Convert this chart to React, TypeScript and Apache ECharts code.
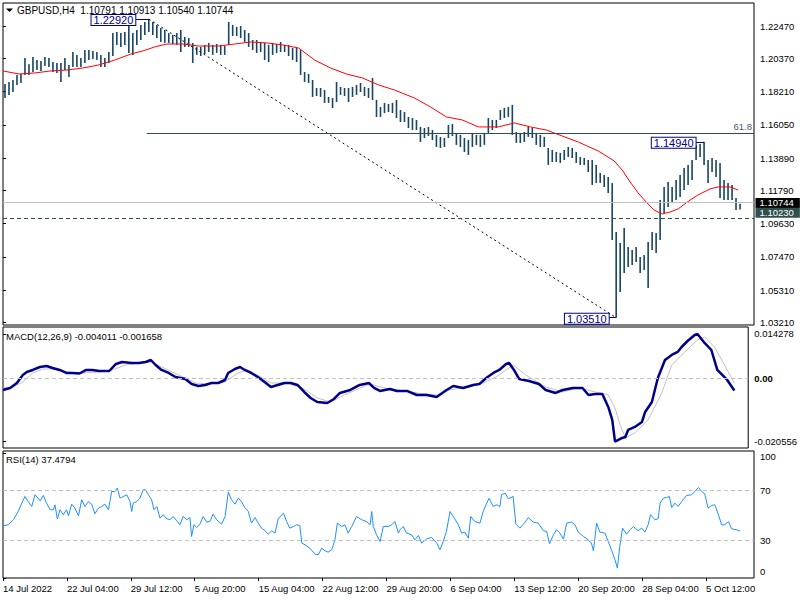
import React, { useEffect, useRef } from "react";
import * as echarts from "echarts";

// ---------- data ----------
const symbolName = "GBPUSD,H4";
const lastOhlc = [1.10791, 1.10913, 1.1054, 1.10744];
const macdLast = [-0.004011, -0.001658];
const rsiLast = 37.4794;

const timeLabels = [
  "14 Jul 2022", "22 Jul 04:00", "29 Jul 12:00", "5 Aug 20:00", "15 Aug 04:00", "22 Aug 12:00",
  "29 Aug 20:00", "6 Sep 04:00", "13 Sep 12:00", "20 Sep 20:00", "28 Sep 04:00", "5 Oct 12:00",
];
const barsPerLabel = 16;
const barSlots = 188;

const barHigh = [
  1.1870, 1.1883, 1.1896, 1.1929, 1.1935, 1.2039, 1.1998, 1.2046, 1.2026, 1.2020,
  1.2046, 1.2039, 1.2013, 1.2007, 1.2007, 1.2039, 1.1994, 1.2078, 1.2059, 1.2039,
  1.2091, 1.2091, 1.2085, 1.2078, 1.2059, 1.2039, 1.2078, 1.2201, 1.2208, 1.2201,
  1.2208, 1.2254, 1.2201, 1.2221, 1.2254, 1.2273, 1.2292, 1.2273, 1.2254, 1.2234,
  1.2221, 1.2201, 1.2189, 1.2201, 1.2221, 1.2176, 1.2169, 1.2137, 1.2111, 1.2111,
  1.2124, 1.2137, 1.2124, 1.2130, 1.2124, 1.2117, 1.2273, 1.2254, 1.2241, 1.2247,
  1.2221, 1.2201, 1.2156, 1.2156, 1.2143, 1.2137, 1.2124, 1.2137, 1.2130, 1.2143,
  1.2124, 1.2124, 1.2104, 1.2104, 1.2091, 1.1948, 1.1935, 1.1896, 1.1844, 1.1844,
  1.1831, 1.1786, 1.1779, 1.1883, 1.1851, 1.1844, 1.1844, 1.1851, 1.1864, 1.1877,
  1.1851, 1.1844, 1.1909, 1.1766, 1.1721, 1.1747, 1.1740, 1.1747, 1.1766, 1.1701,
  1.1688, 1.1656, 1.1649, 1.1636, 1.1591, 1.1584, 1.1591, 1.1571, 1.1539, 1.1526,
  1.1519, 1.1604, 1.1610, 1.1552, 1.1539, 1.1519, 1.1506, 1.1552, 1.1539, 1.1539,
  1.1552, 1.1649, 1.1636, 1.1636, 1.1701, 1.1714, 1.1721, 1.1734, 1.1558, 1.1552,
  1.1558, 1.1591, 1.1584, 1.1552, 1.1539, 1.1526, 1.1454, 1.1441, 1.1428, 1.1422,
  1.1441, 1.1461, 1.1454, 1.1428, 1.1396, 1.1389, 1.1376, 1.1376, 1.1344, 1.1292,
  1.1279, 1.1266, 1.1227, 1.0908, 1.0837, 1.0934, 1.0811, 1.0791, 1.0811, 1.0746,
  1.0759, 1.0843, 1.0908, 1.0901, 1.1116, 1.1201, 1.1233, 1.1201, 1.1246, 1.1279,
  1.1324, 1.1344, 1.1376, 1.1474, 1.1480, 1.1494, 1.1376, 1.1389, 1.1376, 1.1357,
  1.1246, 1.1227, 1.1214, 1.1129, 1.1091,
];
const barLow = [
  1.1779, 1.1798, 1.1818, 1.1864, 1.1877, 1.1929, 1.1929, 1.1948, 1.1961, 1.1955,
  1.1987, 1.1981, 1.1948, 1.1942, 1.1883, 1.1961, 1.1916, 1.1981, 1.1981, 1.1981,
  1.2007, 1.2026, 1.2033, 1.2026, 1.1981, 1.1981, 1.2007, 1.2052, 1.2124, 1.2111,
  1.2124, 1.2072, 1.2059, 1.2124, 1.2156, 1.2189, 1.2208, 1.2189, 1.2169, 1.2143,
  1.2137, 1.2137, 1.2130, 1.2124, 1.2078, 1.2111, 1.2111, 1.2007, 1.2059, 1.2052,
  1.2065, 1.2078, 1.2059, 1.2072, 1.2059, 1.2059, 1.2124, 1.2182, 1.2182, 1.2169,
  1.2143, 1.2111, 1.2091, 1.2072, 1.2078, 1.2026, 1.2013, 1.2059, 1.2072, 1.2078,
  1.2078, 1.2052, 1.2026, 1.2013, 1.1929, 1.1883, 1.1877, 1.1786, 1.1792, 1.1786,
  1.1747, 1.1747, 1.1714, 1.1753, 1.1799, 1.1792, 1.1753, 1.1786, 1.1799, 1.1818,
  1.1792, 1.1779, 1.1766, 1.1656, 1.1656, 1.1681, 1.1688, 1.1681, 1.1649, 1.1623,
  1.1623, 1.1584, 1.1571, 1.1571, 1.1493, 1.1519, 1.1532, 1.1506, 1.1461, 1.1454,
  1.1461, 1.1519, 1.1532, 1.1474, 1.1461, 1.1428, 1.1409, 1.1461, 1.1474, 1.1461,
  1.1474, 1.1552, 1.1571, 1.1584, 1.1636, 1.1649, 1.1656, 1.1539, 1.1487, 1.1487,
  1.1493, 1.1526, 1.1519, 1.1474, 1.1461, 1.1461, 1.1344, 1.1363, 1.1363, 1.1357,
  1.1376, 1.1396, 1.1389, 1.1357, 1.1344, 1.1344, 1.1298, 1.1214, 1.1227, 1.1227,
  1.1201, 1.1162, 1.0856, 1.0351, 1.0518, 1.0642, 1.0681, 1.0694, 1.0713, 1.0642,
  1.0661, 1.0544, 1.0791, 1.0772, 1.0856, 1.1032, 1.1071, 1.1097, 1.1116, 1.1136,
  1.1181, 1.1214, 1.1246, 1.1376, 1.1396, 1.1344, 1.1227, 1.1298, 1.1266, 1.1129,
  1.1116, 1.1116, 1.1116, 1.1051, 1.1054,
];

const maIdx = [
  0, 4, 8, 12, 16, 20, 24, 28, 32, 35, 38, 41, 45, 49, 54, 58, 62, 66, 70, 74,
  78, 82, 86, 90, 94, 98, 103, 107, 111, 115, 119, 124, 128, 132, 136, 140, 144, 149, 153, 155,
  157, 159, 161, 163, 165, 167, 169, 172, 174, 177, 179, 182, 184,
];
const maVal = [
  1.1955, 1.1935, 1.1942, 1.1955, 1.1961, 1.1974, 1.1994, 1.2026, 1.2065, 1.2085,
  1.2111, 1.2130, 1.2130, 1.2117, 1.2117, 1.2130, 1.2143, 1.2137, 1.2124, 1.2104,
  1.2026, 1.1974, 1.1935, 1.1909, 1.1864, 1.1831, 1.1779, 1.1721, 1.1656, 1.1636,
  1.1591, 1.1591, 1.1617, 1.1591, 1.1571, 1.1532, 1.1493, 1.1435, 1.1370, 1.1311,
  1.1233, 1.1162, 1.1103, 1.1051, 1.1025, 1.1038, 1.1058, 1.1116, 1.1149, 1.1188,
  1.1201, 1.1201, 1.1181,
];

const macdIdx = [
  0, 1.8, 3.5, 5, 6, 7.5, 9.3, 11, 12.5, 14.3, 16, 17.5, 19.3, 21, 22.5, 24.3, 26.8, 28.5, 30, 32.5,
  34.3, 36, 37.3, 38.5, 40, 41.8, 43.5, 46, 47.6, 49.3, 51, 52.6, 54.3, 56, 56.8, 58.5, 59.8, 61, 62.6, 64.3,
  66, 67.6, 69.3, 71, 72.6, 74.3, 76, 77.6, 79.3, 81.8, 83.5, 85, 87.6, 90, 92.3, 93.6, 95.1, 97.6, 99.4, 101.9,
  104.4, 106.9, 109.4, 111.9, 113.6, 116.1, 118.6, 120.2, 121.9, 123.7, 125.2, 126.9, 127.7, 128.9, 130.2, 132.7, 135.2, 136.9, 139.4, 141.2,
  143.7, 146.2, 147.7, 149.4, 151.2, 152.7, 153.7, 154.4, 156.2, 157, 157.7, 159.4, 161.2, 162, 163.7, 165.2, 167, 168.7, 170.2, 171.2,
  172.7, 174.5, 175.2, 177, 178.7, 180.2, 182.7, 184.5,
];
const macdVal = [
  -0.00383, -0.00318, -0.00157, 0.00102, 0.00199, 0.00264, 0.00361, 0.00393, 0.00328, 0.00264,
  0.00167, 0.00167, 0.0015, 0.00264, 0.00264, 0.00231, 0.00231, 0.00458, 0.00522, 0.0049,
  0.0049, 0.00522, 0.00587, 0.00425, 0.00264, 0.00167, 0.00037, -0.00027, -0.00189, -0.00254,
  -0.00221, -0.00157, -0.00157, -0.0006, 0.00167, 0.00296, 0.00361, 0.00264, 0.00167, 0.00037,
  -0.00124, -0.00286, -0.00221, -0.00157, -0.00157, -0.00221, -0.00448, -0.00642, -0.00771, -0.00804,
  -0.00674, -0.0048, -0.00383, -0.00221, -0.00157, -0.00318, -0.00415, -0.00351, -0.00415, -0.00415,
  -0.00545, -0.00545, -0.0061, -0.00383, -0.00254, -0.00318, -0.00221, -0.00189, 0.00005, 0.00167,
  0.00264, 0.00458, 0.0049, 0.00264, -0.00027, -0.00092, -0.00189, -0.00383, -0.0048, -0.00383,
  -0.00318, -0.00318, -0.00545, -0.00512, -0.00512, -0.00933, -0.01353, -0.020556, -0.01936, -0.01903,
  -0.01677, -0.0158, -0.01418, -0.01095, -0.00771, 0.00005, 0.00587, 0.00749, 0.00846, 0.01007,
  0.01201, 0.01395, 0.014278, 0.01137, 0.0091, 0.00264, -0.0006, -0.004011,
];

const signalIdx = [
  0, 2.5, 5, 7.5, 10, 12.5, 16, 20, 24.3, 27.5, 31, 34.3, 37.5, 40, 44.3, 48.6, 51.8, 56, 59.3, 61.8,
  65, 67.6, 71.8, 76, 79.3, 82.6, 86.1, 90.1, 92.6, 96.1, 99.4, 104.4, 109.4, 112.7, 117.6, 121.1, 124.4, 128.7, 131.9, 136.9,
  141.2, 145.2, 149.4, 152.7, 154.4, 155.7, 157, 159.4, 162.7, 166.2, 168.7, 172, 175.2, 177, 179.5, 182.7, 184.5,
];
const signalVal = [
  -0.00318, -0.00286, -0.00124, 0.00167, 0.00296, 0.00296, 0.00199, 0.00167, 0.00199, 0.00264,
  0.00425, 0.0049, 0.00522, 0.00361, 0.00102, -0.00157, -0.00189, -0.00124, 0.00167, 0.00264,
  0.00037, -0.00157, -0.00157, -0.00351, -0.00642, -0.00771, -0.00545, -0.00318, -0.00189, -0.00318,
  -0.00383, -0.0048, -0.00545, -0.00383, -0.00286, -0.00157, 0.00037, 0.00425, 0.00102, -0.00286,
  -0.00448, -0.00318, -0.00448, -0.00545, -0.00965, -0.01515, -0.01936, -0.01774, -0.01353, -0.0048,
  0.00425, 0.00846, 0.01234, 0.01331, 0.01007, 0.00264, -0.001658,
];

const rsiIdx = [
  0, 1.3, 2.6, 3.8, 4.7, 5.5, 6.3, 7.2, 8.0, 8.8, 9.3, 10.1, 10.9, 11.8, 12.6, 13.0, 13.6, 14.3, 15.1, 15.9,
  16.4, 17.2, 18.0, 18.9, 19.7, 20.5, 21.4, 22.2, 23.0, 23.9, 24.7, 25.5, 26.4, 27.2, 28.0, 28.6, 29.3, 30.1, 31.0, 31.8,
  32.2, 32.6, 33.5, 34.3, 35.1, 35.6, 36.4, 37.2, 37.8, 38.5, 39.3, 40.1, 41.0, 41.8, 42.6, 43.5, 44.3, 45.1, 46.0, 46.8,
  47.2, 47.8, 48.5, 49.3, 50.1, 51.0, 51.8, 52.6, 53.5, 54.7, 55.6, 56.4, 57.2, 58.1, 58.9, 59.7, 60.6, 61.4, 62.2, 63.1,
  63.9, 64.7, 65.6, 66.4, 67.3, 68.1, 68.9, 70.2, 71.0, 71.8, 72.7, 73.5, 74.3, 74.8, 75.6, 76.8, 78.1, 78.9, 79.8, 80.6,
  81.4, 82.3, 83.1, 83.7, 84.8, 85.6, 86.4, 87.3, 88.5, 89.8, 91.0, 91.9, 92.3, 92.7, 93.5, 94.4, 95.2, 96.5, 97.3, 98.1,
  99.0, 99.4, 100.2, 101.0, 102.3, 103.1, 104.0, 104.8, 106.1, 107.3, 108.6, 109.4, 110.2, 111.0, 111.9, 112.7, 114.0, 114.8, 115.6, 116.5,
  117.1, 118.1, 119.4, 120.2, 121.1, 121.7, 122.7, 123.6, 124.4, 124.8, 125.7, 126.5, 127.7, 128.4, 129.4, 130.7, 131.5, 132.7, 134.0, 135.3,
  136.1, 136.8, 137.8, 138.6, 139.4, 140.3, 141.1, 142.3, 143.2, 144.0, 145.3, 146.5, 147.3, 147.8, 148.6, 149.4, 150.7, 151.5, 152.4, 153.2,
  153.8, 154.4, 155.1, 156.1, 157.0, 157.8, 159.0, 159.9, 160.7, 161.5, 162.1, 163.2, 164.0, 164.5, 165.3, 166.1, 166.8, 167.4, 168.2, 169.0,
  169.9, 171.1, 172.4, 174.1, 174.9, 175.7, 176.5, 177.4, 178.2, 179.1, 179.9, 180.7, 181.6, 182.4, 183.6, 184.5,
];
const rsiVal = [
  41.8, 42.6, 46.6, 53.2, 59.9, 65.2, 61.2, 57.2, 66.6, 63.9, 61.8, 66.0, 59.9, 54.6, 54.6, 58.6, 47.4, 54.6, 50.6, 54.6,
  49.8, 59.1, 55.9, 49.8, 62.6, 57.2, 61.2, 59.1, 51.4, 55.9, 57.2, 59.1, 54.6, 69.2, 69.2, 71.9, 63.9, 65.2, 66.6, 61.2,
  53.2, 59.9, 61.2, 63.9, 70.6, 70.6, 66.6, 62.6, 54.6, 57.2, 47.9, 50.6, 47.4, 46.6, 49.2, 45.8, 42.6, 49.2, 46.6, 48.4,
  33.2, 42.6, 40.4, 43.1, 49.2, 44.7, 45.2, 51.1, 46.6, 43.1, 49.2, 68.7, 62.6, 59.1, 63.9, 61.2, 55.9, 53.2, 43.9, 48.4,
  43.9, 39.9, 37.8, 35.1, 37.8, 35.9, 47.4, 51.9, 45.2, 39.9, 41.2, 42.6, 42.0, 27.9, 26.6, 23.9, 19.1, 18.6, 23.9, 21.8,
  20.7, 22.6, 30.6, 43.9, 41.2, 42.6, 35.9, 41.2, 49.2, 46.6, 45.2, 42.6, 53.2, 41.2, 34.6, 29.2, 41.2, 41.2, 42.6, 45.2,
  35.9, 38.6, 41.2, 35.9, 34.6, 30.6, 34.0, 27.9, 31.4, 32.4, 27.9, 22.6, 29.2, 37.2, 53.2, 49.2, 42.6, 35.9, 36.7, 31.9,
  49.2, 45.2, 43.9, 53.2, 59.9, 63.9, 57.2, 58.6, 57.2, 66.6, 67.9, 63.4, 65.2, 43.1, 39.9, 44.7, 48.4, 44.7, 43.9, 37.8,
  37.2, 27.4, 34.6, 38.6, 35.9, 31.1, 43.9, 44.7, 42.6, 36.7, 33.2, 30.6, 27.9, 21.8, 43.9, 36.7, 35.9, 29.2, 21.8, 14.6,
  7.9, 25.2, 39.9, 35.1, 38.6, 41.2, 37.8, 39.9, 36.7, 42.6, 50.6, 46.6, 47.4, 59.9, 63.9, 64.4, 65.2, 56.4, 59.9, 57.2,
  61.2, 66.0, 66.6, 72.4, 69.2, 67.1, 55.9, 58.0, 58.6, 50.6, 42.6, 42.6, 45.2, 39.4, 38.6, 37.48,
];

const priceTicks = [1.2247, 1.2037, 1.1821, 1.1605, 1.1389, 1.1179, 1.0963, 1.0747, 1.0531, 1.0321];
const macdTicks = [0.014278, 0, -0.020556];
const rsiTicks = [0, 30, 70, 100];
const rsiLevels = [70, 30];
const supportLevel = 1.1023;
const fibRatio = 61.8;
// swing points: bar index and price
const swingIdx = [36, 153, 175];
const swingPrice = [1.2292, 1.0351, 1.1494];

// ---------- style ----------
const FONT = "'Liberation Sans', Arial, sans-serif";
const FS = 9.5;
const GL = 3;
const GR = 46;
const PLOT_W = 800 - GL - GR;
const PX_PER_BAR = PLOT_W / barSlots;
const swingGap = [13, 7, 8];
const BAR_COLOR = "#174563";
const NAVY = "#00008B";
const SLATE = "#2F4F4F";

export default function App() {
  const ref = useRef<HTMLDivElement>(null);

  useEffect(() => {
    if (!ref.current) return;
    const chart = echarts.init(ref.current, null, { renderer: "svg" });

    const labelTicks: number[] = timeLabels.map((_, i) => i * barsPerLabel);
    const bars = barHigh.map((h, i) => [i + 0.5, barLow[i], h]);
    const ma = maIdx.map((x, i) => [x, maVal[i]]);
    const macd = macdIdx.map((x, i) => [x, macdVal[i]]);
    const signal = signalIdx.map((x, i) => [x, signalVal[i]]);
    const rsi = rsiIdx.map((x, i) => [x, rsiVal[i]]);

    const hiP = swingPrice[0];
    const loP = swingPrice[1];
    const fibPrice = loP + (fibRatio / 100) * (hiP - loP);

    // RSI edge labels sit inside the pane, like the terminal draws them
    const rsiLabelPos = rsiTicks.map((v) => Math.min(97, Math.max(5, v)));

    const axisText = { fontSize: FS, color: "#000", fontFamily: FONT };

    const xAxes = [0, 1, 2].map((g) => ({
      type: "value",
      gridIndex: g,
      min: 0,
      max: barSlots,
      show: g === 2,
      splitLine: { show: false },
      axisLine: { show: false },
      axisTick: { show: true, customValues: labelTicks, length: 3, lineStyle: { color: "#000" } },
      axisLabel: {
        ...axisText,
        customValues: labelTicks,
        formatter: (v: number) => timeLabels[Math.round(v / barsPerLabel)] ?? "",
        align: "left",
        margin: 5,
      },
    }));

    const yBase = {
      type: "value",
      position: "right",
      splitLine: { show: false },
      axisLine: { show: false },
    };

    const priceBox = (price: number, bg: string, dy: number) => ({
      coord: [barSlots, price],
      label: {
        show: true,
        position: "right",
        distance: 1,
        offset: [0, dy],
        formatter: price.toFixed(5),
        color: "#fff",
        backgroundColor: bg,
        padding: [1, 6, 0, 4],
        lineHeight: 9,
        fontSize: FS,
        fontFamily: FONT,
      },
    });

    const option: any = {
      animation: false,
      backgroundColor: "#fff",
      textStyle: { fontFamily: FONT },
      grid: [
        { left: GL, right: GR, top: 3, height: 322, show: true, borderColor: "#000", borderWidth: 1, backgroundColor: "#fff" },
        { left: GL, right: GR, top: 327, height: 121, show: true, borderColor: "#000", borderWidth: 1, backgroundColor: "#fff" },
        { left: GL, right: GR, top: 451, height: 127, show: true, borderColor: "#000", borderWidth: 1, backgroundColor: "#fff" },
      ],
      xAxis: xAxes,
      yAxis: [
        {
          ...yBase,
          gridIndex: 0,
          min: 1.03035,
          max: 1.23965,
          axisTick: { show: true, customValues: priceTicks, length: 3, lineStyle: { color: "#000" } },
          axisLabel: { ...axisText, customValues: priceTicks, formatter: (v: number) => v.toFixed(5), margin: 6 },
        },
        {
          ...yBase,
          gridIndex: 1,
          min: -0.0226,
          max: 0.01654,
          axisTick: { show: true, customValues: macdTicks, length: 3, lineStyle: { color: "#000" } },
          axisLabel: {
            ...axisText,
            customValues: macdTicks,
            formatter: (v: number) => (v === 0 ? "{z|0.00}" : v.toFixed(6)),
            margin: 6,
            rich: { z: { fontSize: FS, fontWeight: "bold", color: "#000", fontFamily: FONT } },
          },
        },
        {
          ...yBase,
          gridIndex: 2,
          min: 0,
          max: 101.6,
          axisTick: { show: true, customValues: rsiTicks, length: 3, lineStyle: { color: "#000" } },
          axisLabel: {
            ...axisText,
            customValues: rsiLabelPos,
            formatter: (v: number) => String(rsiTicks[rsiLabelPos.indexOf(v)]),
            margin: 6,
          },
        },
      ],
      series: [
        {
          type: "custom",
          name: "bars",
          xAxisIndex: 0,
          yAxisIndex: 0,
          clip: true,
          data: bars,
          encode: { x: 0, y: [1, 2] },
          renderItem: (_p: any, api: any) => {
            const x = api.value(0);
            const a = api.coord([x, api.value(1)]);
            const b = api.coord([x, api.value(2)]);
            return {
              type: "line",
              shape: { x1: a[0], y1: a[1], x2: b[0], y2: b[1] },
              style: { stroke: BAR_COLOR, lineWidth: 1.6 },
            };
          },
          z: 2,
        },
        {
          type: "line",
          name: "trend",
          xAxisIndex: 0,
          yAxisIndex: 0,
          data: [
            [swingIdx[0] + 0.5, swingPrice[0]],
            [swingIdx[1] + 0.5, swingPrice[1]],
          ],
          symbol: "none",
          silent: true,
          lineStyle: { color: "#000", width: 1, type: [2, 3] },
          z: 3,
        },
        {
          type: "line",
          name: "MA",
          xAxisIndex: 0,
          yAxisIndex: 0,
          data: ma,
          symbol: "none",
          silent: true,
          lineStyle: { color: "#FF0000", width: 1 },
          z: 4,
          markLine: {
            symbol: ["none", "none"],
            silent: true,
            animation: false,
            data: [
              [
                {
                  coord: [swingIdx[0], fibPrice],
                  lineStyle: { color: SLATE, width: 1, type: "solid" },
                  label: {
                    show: true,
                    position: "insideEndTop",
                    formatter: fibRatio.toFixed(1),
                    color: "#4A5A6A",
                    fontSize: FS,
                    fontFamily: FONT,
                    distance: [2, 2],
                  },
                },
                { coord: [barSlots, fibPrice] },
              ],
              ...swingIdx.map((idx, k) => [
                {
                  coord: [idx + 0.5 - swingGap[k] / PX_PER_BAR, swingPrice[k]],
                  lineStyle: { color: NAVY, width: 1, type: "solid" },
                  label: { show: false },
                },
                { coord: [idx + 0.5, swingPrice[k]] },
              ]),
              {
                yAxis: lastOhlc[3],
                lineStyle: { color: "#C0C0C0", width: 1, type: "solid" },
                label: { show: false },
              },
              {
                yAxis: supportLevel,
                lineStyle: { color: SLATE, width: 1, type: [4, 3] },
                label: { show: false },
              },
            ],
          },
          markPoint: {
            symbol: "rect",
            symbolSize: 1,
            silent: true,
            itemStyle: { color: "rgba(0,0,0,0)" },
            data: [
              ...swingIdx.map((idx, k) => ({
                coord: [idx + 0.5, swingPrice[k]],
                label: {
                  show: true,
                  position: "left",
                  distance: swingGap[k],
                  offset: [0, 1],
                  formatter: swingPrice[k].toFixed(5),
                  color: NAVY,
                  backgroundColor: "#fff",
                  borderColor: NAVY,
                  borderWidth: 1,
                  padding: [0, 2, 0, 2],
                  lineHeight: 10,
                  fontSize: 11,
                  fontFamily: FONT,
                },
              })),
              priceBox(lastOhlc[3], "#000", -3.5),
              priceBox(supportLevel, SLATE, -1.5),
            ],
          },
        },
        {
          type: "line",
          name: "signal",
          xAxisIndex: 1,
          yAxisIndex: 1,
          data: signal,
          symbol: "none",
          silent: true,
          lineStyle: { color: "#C0C0C0", width: 1 },
          z: 3,
          markLine: {
            symbol: ["none", "none"],
            silent: true,
            data: [{ yAxis: 0, lineStyle: { color: "#C0C0C0", width: 1, type: [4, 3] }, label: { show: false } }],
          },
        },
        {
          type: "line",
          name: "macd",
          xAxisIndex: 1,
          yAxisIndex: 1,
          data: macd,
          symbol: "none",
          silent: true,
          lineStyle: { color: NAVY, width: 2.5 },
          z: 4,
        },
        {
          type: "line",
          name: "rsi",
          xAxisIndex: 2,
          yAxisIndex: 2,
          data: rsi,
          symbol: "none",
          silent: true,
          lineStyle: { color: "#1E90FF", width: 1 },
          z: 4,
          markLine: {
            symbol: ["none", "none"],
            silent: true,
            data: rsiLevels.map((lv) => ({
              yAxis: lv,
              lineStyle: { color: "#C0C0C0", width: 1, type: [4, 3] },
              label: { show: false },
            })),
          },
        },
      ],
      graphic: [
        {
          type: "polygon",
          shape: { points: [[6, 8.5], [13, 8.5], [9.5, 12]] },
          style: { fill: "#000" },
          z: 100,
        },
        {
          type: "text",
          x: 17,
          y: 10,
          style: {
            text: `${symbolName}  ${lastOhlc.map((v) => v.toFixed(5)).join(" ")}`,
            fill: "#000",
            fontSize: 10,
            fontFamily: FONT,
            verticalAlign: "middle",
          },
          z: 100,
        },
        {
          type: "text",
          x: 6,
          y: 336,
          style: {
            text: `MACD(12,26,9) ${macdLast[0].toFixed(6)} ${macdLast[1].toFixed(6)}`,
            fill: "#000",
            fontSize: FS,
            fontFamily: FONT,
            verticalAlign: "middle",
          },
          z: 100,
        },
        {
          type: "text",
          x: 6,
          y: 459.5,
          style: {
            text: `RSI(14) ${rsiLast.toFixed(4)}`,
            fill: "#000",
            fontSize: FS,
            fontFamily: FONT,
            verticalAlign: "middle",
          },
          z: 100,
        },
      ],
    };

    chart.setOption(option);
    return () => chart.dispose();
  }, []);

  return (
    <div
      ref={ref}
      style={{ position: "absolute", left: 0, top: 0, width: 800, height: 600, background: "#fff" }}
    />
  );
}
